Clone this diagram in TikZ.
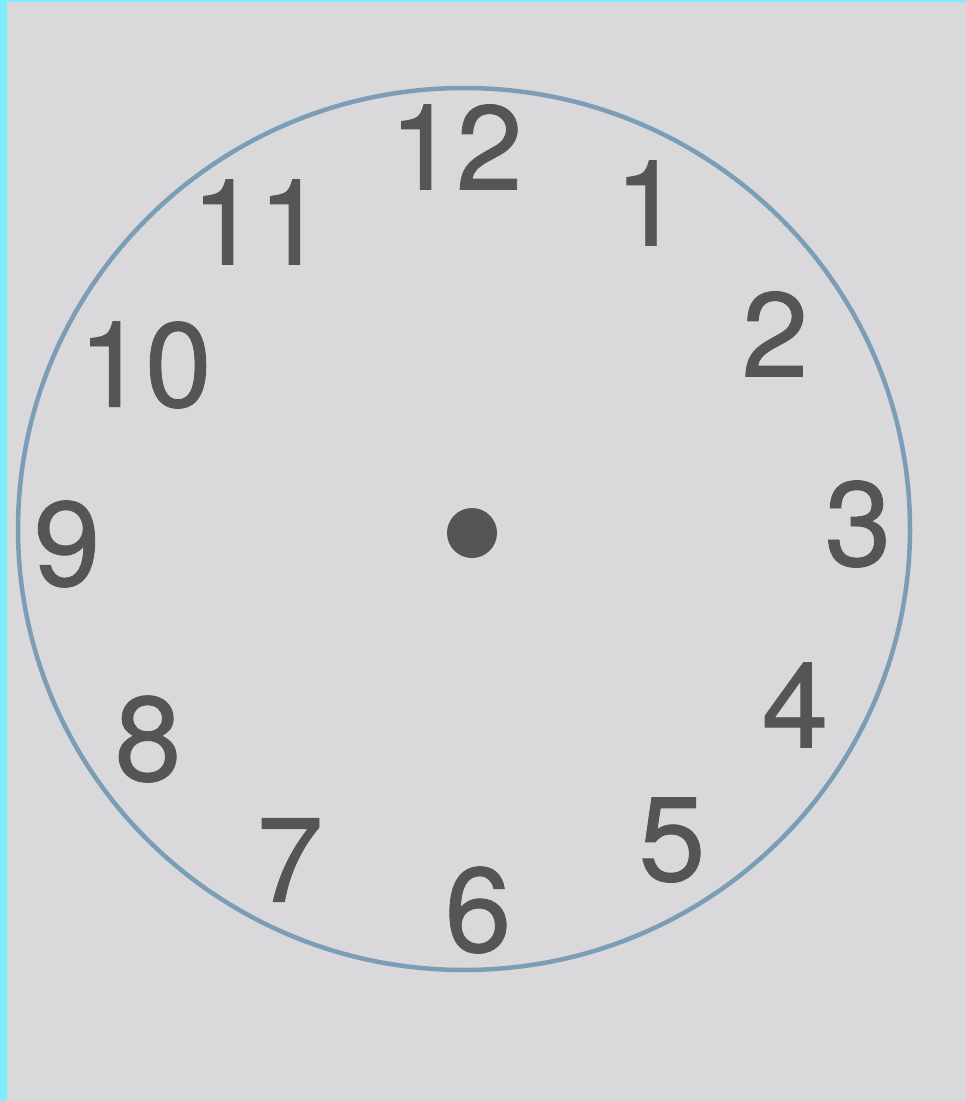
\documentclass[tikz,border=0pt]{standalone}
\usepackage{fontspec}
\newfontfamily\dialfont{TeX Gyre Heros}[FakeBold=0.7]
\usepackage{xcolor}
\usepackage{tikz}
\definecolor{frameCyan}{HTML}{7DEEFF}
\definecolor{paperGray}{HTML}{D9D9DB}
\definecolor{rimBlue}{HTML}{7C9DB6}
\definecolor{digitGray}{HTML}{555557}

\begin{document}
\begin{tikzpicture}[x=1pt,y=-1pt]

\tikzset{
num/.style={
    text=digitGray,
    inner sep=0pt,
    font=\dialfont\fontsize{120}{120}\selectfont
},
rim/.style={
    draw=rimBlue,
    line width=4.5pt
}
}

% page
\fill[frameCyan] (0,0) rectangle (966,1101);
\fill[paperGray] (7,2) rectangle (966,1101);
\useasboundingbox (0,0) rectangle (966,1101);

% face
\node[draw=none] (centre) at (464,529) {};
\draw[rim] (centre.center) ellipse [x radius=446, y radius=441];
\fill[digitGray] (472,533) circle (25);

% hours
\foreach \h/\x/\y in {12/456/147, 1/648/203, 2/775/334, 3/858/524, 4/795/705, 5/672/840,
                      6/478/910, 7/290/860, 8/148/739, 9/67/544, 10/145/365, 11/258/222}
    \node[num] (hour\h) at (\x,\y) {\h};

\end{tikzpicture}
\end{document}
